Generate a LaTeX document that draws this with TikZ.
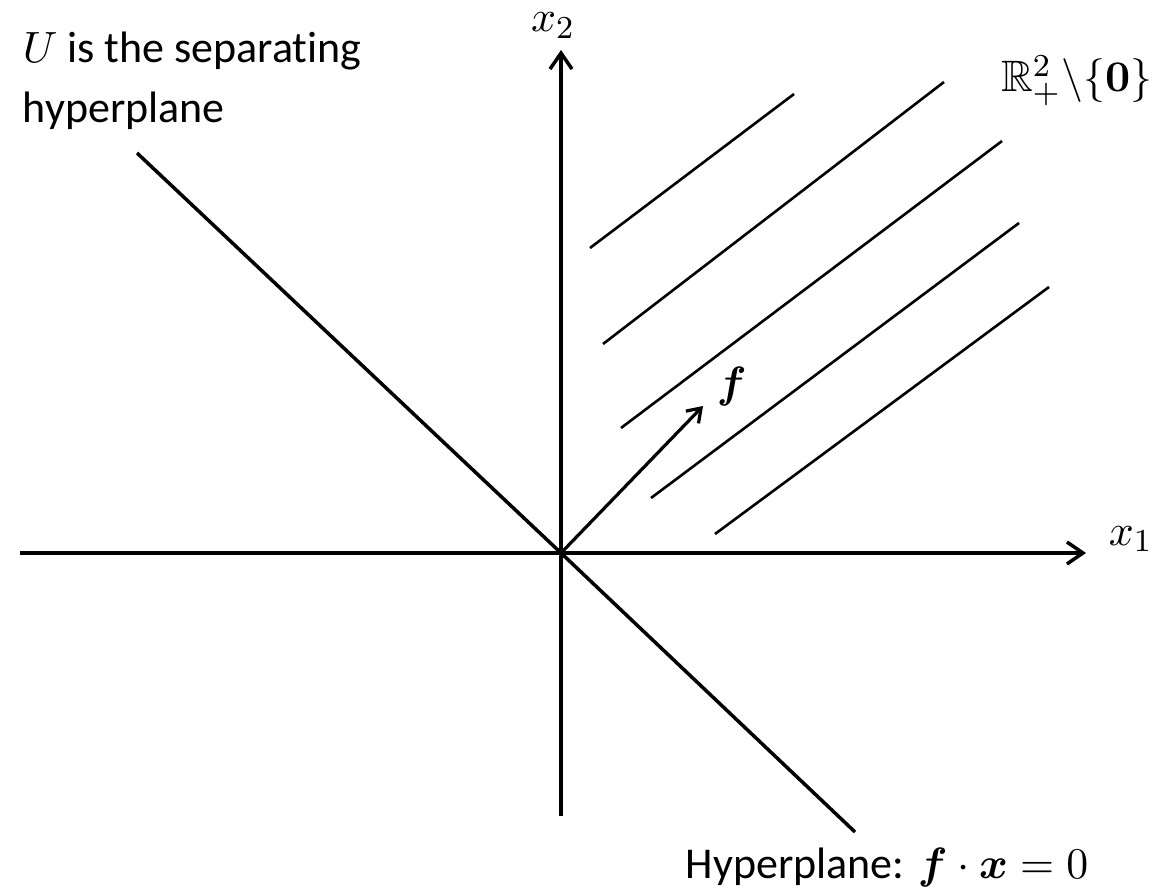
\documentclass[tikz,border=0pt]{standalone}
\usepackage{amsmath,amssymb}
\usepackage[no-math]{fontspec}
\setmainfont[Ligatures=NoCommon]{Carlito}
\usetikzlibrary{arrows.meta}
\begin{document}
\begin{tikzpicture}[x=0.25pt,y=-0.25pt,
  axis/.style={line width=0.875pt},
  hatch/.style={line width=0.65pt},
  barb/.style={-{Straight Barb[length=4pt,width=5.5pt,line width=0.875pt]}},
  smallbarb/.style={-{Straight Barb[length=3.2pt,width=4.4pt,line width=0.8pt]}},
  lbl/.style={inner sep=0pt,font=\fontsize{11}{15}\selectfont}]
\useasboundingbox (0,0) rectangle (1162,895);
% axes
\coordinate (O) at (561,553);
\coordinate (xl) at (20,553);
\coordinate (xr) at (1086,553);
\coordinate (yb) at (561,816);
\coordinate (yt) at (561,50);
\draw[axis,barb] (xl) -- (xr);
\draw[axis,barb] (yb) -- (yt);
% hyperplane
\coordinate (h1) at (137,153);
\coordinate (h2) at (855,832);
\draw[axis] (h1) -- (O) -- (h2);
% f vector
\coordinate (ft) at (703,406);
\draw[line width=0.8pt,smallbarb] (O) -- (ft);
% hatching
\coordinate (a1) at (590,248); \coordinate (b1) at (794,94);
\coordinate (a2) at (603,344); \coordinate (b2) at (944,82);
\coordinate (a3) at (621,428); \coordinate (b3) at (1002,141);
\coordinate (a4) at (651,498); \coordinate (b4) at (1019,223);
\coordinate (a5) at (715,534); \coordinate (b5) at (1049,287);
\foreach \i in {1,...,5} \draw[hatch] (a\i) -- (b\i);
% labels
\node[lbl,anchor=base west,align=left] (u) at (22,123) {$U$ is the separating\\hyperplane};
\node[lbl,anchor=base] (x2) at (553,32) {$x_2$};
\node[lbl,anchor=base west] (x1) at (1108,545) {$x_1$};
\node[lbl,anchor=base east] (R) at (1153,92) {$\mathbb{R}^2_+\backslash\{\mathbf{0}\}$};
\node[lbl,anchor=base west] (f) at (716,398) {$\boldsymbol{f}$};
\node[lbl,anchor=base west] (hp) at (685,878) {Hyperplane: $\boldsymbol{f}\cdot\boldsymbol{x}=0$};
\end{tikzpicture}
\end{document}
